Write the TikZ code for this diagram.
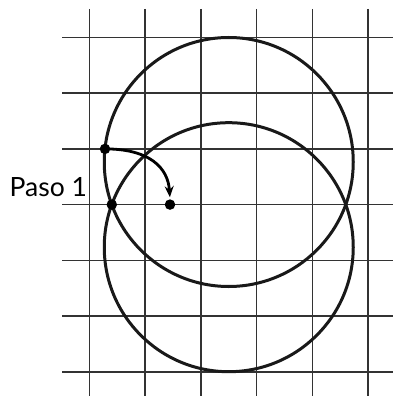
\documentclass[tikz,border=0pt]{standalone}
\usepackage{fontspec}
\setmainfont{Lato}
\usetikzlibrary{arrows.meta}
\begin{document}
\begin{tikzpicture}[x=1pt,y=-1pt,
  gridline/.style={line width=1.6pt,color=black!80},
  circ/.style={line width=3pt,color=black!90},
  dot/.style={circle,fill=black,inner sep=0pt,minimum size=10.5pt},
  lbl/.style={font=\fontsize{26.5}{30}\selectfont,inner sep=0pt,anchor=base west}]
\useasboundingbox (0,0) rectangle (393,396);
% grid
\foreach \i in {0,...,5} {
  \draw[gridline] ({89.5+55.7*\i},9) -- ({89.5+55.7*\i},396);
}
\foreach \j in {0,...,6} {
  \draw[gridline] (62,{37.5+55.7*\j}) -- (393,{37.5+55.7*\j});
}
% circles
\draw[circ] (228.75,162) circle (124.5);
\draw[circ] (228.75,247.2) circle (124.5);
% points
\node[dot] (p1) at (105,148.9) {};
\node[dot] (p2) at (111.8,204.6) {};
\node[dot] (p3) at (170,204.6) {};
% arrow
\draw[line width=2.8pt,-{Stealth[length=11pt,width=9pt]},shorten >=2pt]
  (p1.center) .. controls (150,148.9) and (168,168) .. (p3.north);
% label
\node[lbl] (t) at (9.5,196) {Paso 1};
\end{tikzpicture}
\end{document}
